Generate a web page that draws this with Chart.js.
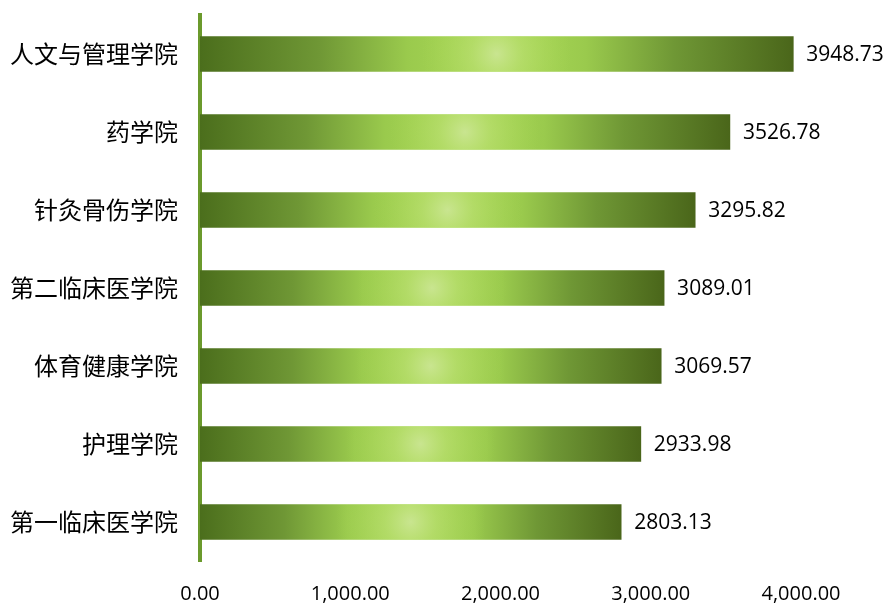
<!DOCTYPE html>
<html>
<head>
<meta charset="utf-8">
<script src="https://cdn.jsdelivr.net/npm/chart.js@4"></script>
<style>
  body { margin: 0; background: #fff; }
  #wrap { width: 889px; height: 603px; }
</style>
</head>
<body>
<div id="wrap"><canvas id="myChart" width="889" height="603"></canvas></div>
<script>
// Kategorien und Werte (von oben nach unten)
const colleges = ['人文与管理学院', '药学院', '针灸骨伤学院', '第二临床医学院', '体育健康学院', '护理学院', '第一临床医学院'];
const scores = [3948.73, 3526.78, 3295.82, 3089.01, 3069.57, 2933.98, 2803.13];
const xTicks = [0, 1000, 2000, 3000, 4000];

// Verlauf für jeden Balken: dunkel an den Rändern, hell in der Mitte
function barGradient(context) {
    const chart = context.chart;
    const { ctx, chartArea, scales } = chart;
    if (!chartArea) return '#7aa03a';
    const x0 = scales.x.getPixelForValue(0);
    const x1 = scales.x.getPixelForValue(context.raw);
    const g = ctx.createLinearGradient(x0, 0, x1, 0);
    g.addColorStop(0, '#4b6e1c');
    g.addColorStop(0.2, '#6f9735');
    g.addColorStop(0.35, '#9aca4d');
    g.addColorStop(0.5, '#addb59');
    g.addColorStop(0.65, '#9aca4d');
    g.addColorStop(0.8, '#6f9735');
    g.addColorStop(1, '#4a661a');
    return g;
}

// Heller Fleck in der Balkenmitte + Wertebeschriftung
const barExtras = {
    id: 'barExtras',
    afterDatasetsDraw(chart) {
        const ctx = chart.ctx;
        const meta = chart.getDatasetMeta(0);
        meta.data.forEach((el, i) => {
            const left = Math.min(el.base, el.x);
            const w = Math.abs(el.x - el.base);
            const top = el.y - el.height / 2;
            const cx = left + w / 2;
            ctx.save();
            ctx.beginPath();
            ctx.rect(left, top, w, el.height);
            ctx.clip();
            const r = ctx.createRadialGradient(cx, el.y, 0, cx, el.y, 75);
            r.addColorStop(0, 'rgba(204,230,150,0.9)');
            r.addColorStop(0.35, 'rgba(190,225,120,0.5)');
            r.addColorStop(1, 'rgba(172,218,88,0)');
            ctx.fillStyle = r;
            ctx.fillRect(left, top, w, el.height);
            ctx.restore();

            ctx.save();
            ctx.font = '21px "Open Sans"';
            ctx.fillStyle = '#000';
            ctx.textAlign = 'left';
            ctx.textBaseline = 'middle';
            ctx.fillText(scores[i].toFixed(2), el.x + 13, el.y + 1);
            ctx.restore();
        });
    }
};

const ctx = document.getElementById('myChart').getContext('2d');
const myChart = new Chart(ctx, {
    type: 'bar',
    data: {
        labels: colleges,
        datasets: [{
            data: scores,
            backgroundColor: barGradient,
            borderWidth: 0,
            barThickness: 35
        }]
    },
    options: {
        indexAxis: 'y',
        responsive: false,
        animation: false,
        layout: {
            padding: { top: 15, right: 88, bottom: 0, left: 0 }
        },
        scales: {
            x: {
                min: 0,
                max: 4000,
                afterBuildTicks(scale) {
                    scale.ticks = xTicks.map(v => ({ value: v }));
                },
                grid: { display: false },
                border: { display: false },
                ticks: {
                    padding: 13,
                    color: '#000',
                    font: { family: 'Open Sans', size: 20 },
                    maxRotation: 0,
                    callback: v => v.toLocaleString('en-US', { minimumFractionDigits: 2, maximumFractionDigits: 2 })
                },
                afterFit(scale) {
                    scale.height = 42;
                    scale.paddingLeft = 0;
                    scale.paddingRight = 0;
                }
            },
            y: {
                grid: { display: false, drawTicks: false },
                border: { display: true, color: '#6b9a2c', width: 4 },
                ticks: {
                    padding: 22,
                    color: '#000',
                    font: { family: 'Noto Sans CJK SC', size: 24 }
                },
                afterFit(scale) {
                    scale.width = 200;
                    scale.paddingTop = 0;
                    scale.paddingBottom = 0;
                }
            }
        },
        plugins: {
            legend: { display: false },
            tooltip: { enabled: false }
        }
    },
    plugins: [barExtras]
});
</script>
</body>
</html>
